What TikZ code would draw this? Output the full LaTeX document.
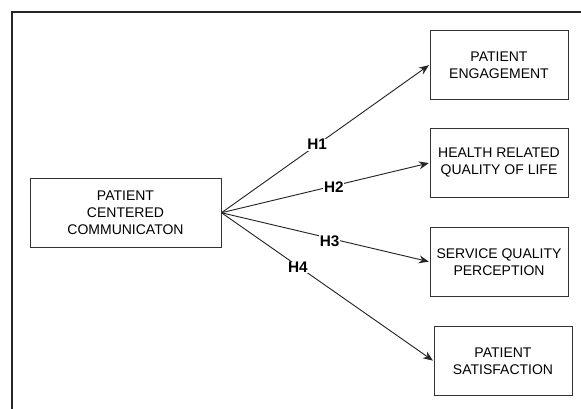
\documentclass[tikz,border=0pt]{standalone}
\usepackage{fontspec}
\setmainfont{Liberation Sans}
\usetikzlibrary{arrows.meta, positioning}

\begin{document}
\begin{tikzpicture}[
    x=0.75pt, y=-0.75pt,
    >={Stealth[length=7.5pt, width=6pt]},
    construct/.style={draw=black!80, line width=0.75pt, rectangle, minimum width=#1, minimum height=51.75pt, align=center, font=\fontsize{10.5}{12.8}\selectfont, inner sep=2pt},
    construct/.default=103.5pt,
    hyp/.style={->, line width=0.7pt, black!85, shorten >=0.5pt},
    hlabel/.style={fill=white, text=black, inner sep=0.5pt, font=\fontsize{11.5}{12}\selectfont\bfseries}
]

% Rahmen (nur links und oben sichtbar)
\useasboundingbox (0,0) rectangle (581,409);
\draw[line width=1pt, black!85] (12,409) -- (12,12) -- (581,12);

% Konstrukte
\node[construct=143.25pt] (pcc) at (125.5, 212.75) {PATIENT\\CENTERED\\COMMUNICATON};
\node[construct] (eng) at (499, 64.8) {PATIENT\\ENGAGEMENT};
\node[construct] (hrql) at (499, 162.9) {HEALTH RELATED\\QUALITY OF LIFE};
\node[construct] (sqp) at (499, 261.8) {SERVICE QUALITY\\PERCEPTION};
\node[construct] (sat) at (503, 361) {PATIENT\\SATISFACTION};

% Hypothesen
\draw[hyp] (pcc.east) -- node[hlabel, pos=0.46] {H1} (eng.west);
\draw[hyp] (pcc.east) -- node[hlabel, pos=0.54, yshift=-1pt] {H2} (hrql.west);
\draw[hyp] (pcc.east) -- node[hlabel, pos=0.52, yshift=-2pt] {H3} (sqp.west);
\draw[hyp] (pcc.east) -- node[hlabel, pos=0.36, yshift=-1pt] {H4} (sat.west);

\end{tikzpicture}
\end{document}
